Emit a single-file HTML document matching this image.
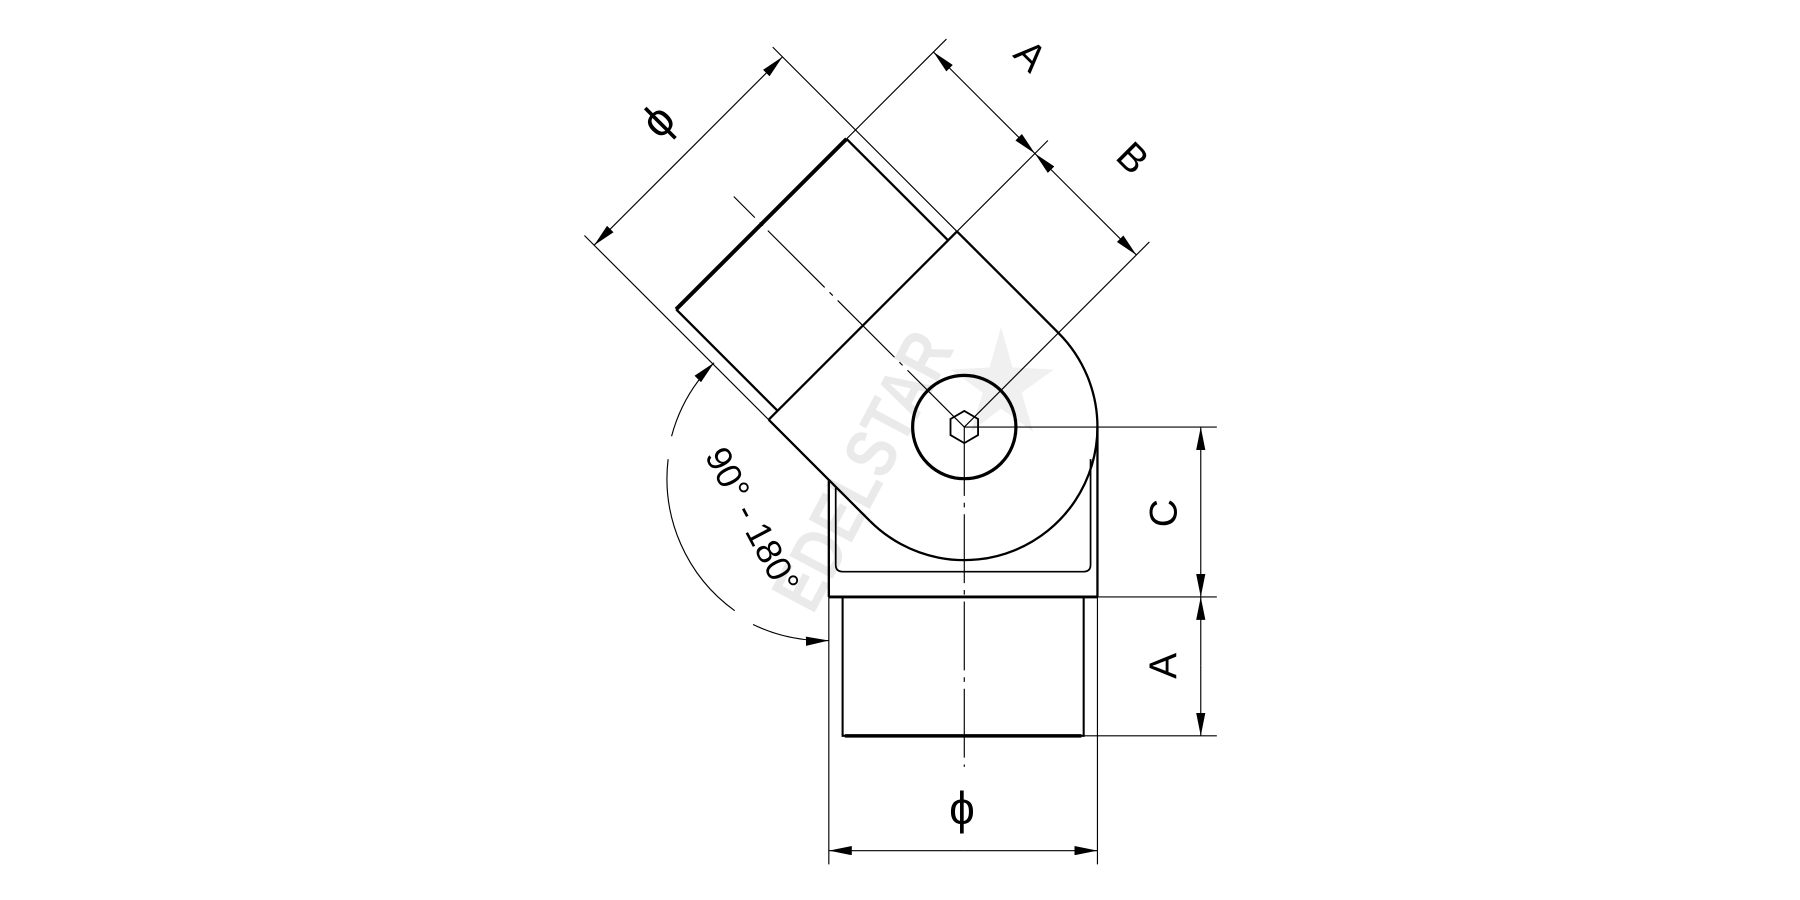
<!DOCTYPE html>
<html><head><meta charset="utf-8"><style>html,body{margin:0;padding:0;background:#fff}svg{display:block}</style></head>
<body>
<svg width="1800" height="900" viewBox="0 0 1568 784" xmlns="http://www.w3.org/2000/svg" font-family="Liberation Sans, DejaVu Sans, sans-serif">
<rect width="1568" height="784" fill="#fff"/>
<defs>
<marker id="ar" viewBox="0 0 20 8" refX="20" refY="4" markerWidth="20" markerHeight="8" markerUnits="userSpaceOnUse" orient="auto"><path d="M0,0 L20,4 L0,8 z" fill="#000"/></marker>
<marker id="as" viewBox="0 0 20 8" refX="0" refY="4" markerWidth="20" markerHeight="8" markerUnits="userSpaceOnUse" orient="auto"><path d="M20,0 L0,4 L20,8 z" fill="#000"/></marker>
</defs>
<!-- watermark -->
<g opacity="0.08" transform="translate(770,420) rotate(-62)"><text x="0" y="0" font-size="62" font-weight="bold" fill="#000" text-anchor="middle" transform="scale(0.8,1)">EDELSTAR</text></g>
<path d="M872,285 L882,320 L918,322 L890,342 L900,376 L872,356 L846,376 L856,342 L828,322 L862,320 z" fill="#000" opacity="0.06"/>

<g stroke="#000" fill="none">
<!-- lower housing -->
<line x1="722" y1="418" x2="722" y2="520" stroke-width="2"/>
<line x1="956" y1="372" x2="956" y2="520" stroke-width="2"/>
<line x1="722" y1="520" x2="956" y2="520" stroke-width="2.5"/>
<path d="M728,425 L728,492 Q728,498 734,498 L944,498 Q950,498 950,492 L950,400" stroke-width="1.5"/>
<!-- lower pipe -->
<path d="M734,520 L734,641 L944,641 L944,520" stroke-width="1.8"/>
<line x1="736" y1="641" x2="942" y2="641" stroke-width="3"/>
<!-- big arc -->
<path d="M922,290 A116,116 0 0 1 956,372 A116,116 0 0 1 758,454" stroke-width="2"/>
<!-- circle & hex -->
<circle cx="840" cy="372" r="45" stroke-width="2.8"/>
<polygon points="840,358 852,365 852,379 840,386 828,379 828,365" stroke-width="1.6"/>
<!-- lower centerline -->
<line x1="840" y1="372" x2="840" y2="668" stroke-width="1" stroke-dasharray="60,6,4,6"/>
<!-- right dims -->
<line x1="840" y1="372" x2="1060" y2="372" stroke-width="1"/>
<line x1="956" y1="520" x2="1060" y2="520" stroke-width="1"/>
<line x1="944" y1="641" x2="1060" y2="641" stroke-width="1"/>
<line x1="1046" y1="446" x2="1046" y2="372" stroke-width="1" marker-end="url(#ar)"/>
<line x1="1046" y1="446" x2="1046" y2="520" stroke-width="1" marker-end="url(#ar)"/>
<line x1="1046" y1="580" x2="1046" y2="520" stroke-width="1" marker-end="url(#ar)"/>
<line x1="1046" y1="580" x2="1046" y2="641" stroke-width="1" marker-end="url(#ar)"/>
<!-- bottom dim -->
<line x1="722" y1="520" x2="722" y2="753" stroke-width="1"/>
<line x1="956" y1="520" x2="956" y2="753" stroke-width="1"/>
<line x1="839" y1="741" x2="722" y2="741" stroke-width="1" marker-end="url(#ar)"/>
<line x1="839" y1="741" x2="956" y2="741" stroke-width="1" marker-end="url(#ar)"/>
<!-- angle arc centered (722,416) r142 -->
<path d="M622,316 A142,142 0 0 0 585,380" stroke-width="1" marker-start="url(#as)"/>
<path d="M582,400 A142,142 0 0 0 640,532" stroke-width="1"/>
<path d="M656,544 A142,142 0 0 0 722,558" stroke-width="1" marker-end="url(#ar)"/>

<!-- arm -->
<g transform="translate(840,372) rotate(-45)">
<line x1="-116" y1="0" x2="-116" y2="-125" stroke-width="2"/>
<line x1="116" y1="0" x2="116" y2="-125" stroke-width="2"/>
<line x1="-116" y1="-125" x2="116" y2="-125" stroke-width="2"/>
<line x1="-105" y1="-125" x2="-105" y2="-250" stroke-width="2"/>
<line x1="105" y1="-125" x2="105" y2="-250" stroke-width="2"/>
<line x1="-105" y1="-250" x2="105" y2="-250" stroke-width="3.5"/>
<!-- centerline -->
<line x1="0" y1="0" x2="0" y2="-284" stroke-width="1" stroke-dasharray="70,6,4,6"/>
<!-- phi ext -->
<line x1="-116" y1="-125" x2="-116" y2="-352" stroke-width="1"/>
<line x1="116" y1="-125" x2="116" y2="-352" stroke-width="1"/>
<line x1="0" y1="-340" x2="-116" y2="-340" stroke-width="1" marker-end="url(#ar)"/>
<line x1="0" y1="-340" x2="116" y2="-340" stroke-width="1" marker-end="url(#ar)"/>
<!-- A B ext -->
<line x1="105" y1="-250" x2="228" y2="-250" stroke-width="1"/>
<line x1="116" y1="-125" x2="228" y2="-125" stroke-width="1"/>
<line x1="0" y1="0" x2="228" y2="0" stroke-width="1"/>
<line x1="212" y1="-188" x2="212" y2="-250" stroke-width="1" marker-end="url(#ar)"/>
<line x1="212" y1="-188" x2="212" y2="-125" stroke-width="1" marker-end="url(#ar)"/>
<line x1="212" y1="-62" x2="212" y2="-125" stroke-width="1" marker-end="url(#ar)"/>
<line x1="212" y1="-62" x2="212" y2="0" stroke-width="1" marker-end="url(#ar)"/>
</g>
</g>

<g fill="#000" font-size="34">
<text x="838" y="718" text-anchor="middle" font-size="40">ϕ</text>
<text transform="translate(1025,447) rotate(-90)" text-anchor="middle">C</text>
<text transform="translate(1025,580) rotate(-90)" text-anchor="middle">A</text>
<g transform="translate(840,372) rotate(-45)">
<text x="0" y="-364" text-anchor="middle" font-size="40">ϕ</text>
<text transform="translate(258,-188) rotate(90)" text-anchor="middle">A</text>
<text transform="translate(258,-62) rotate(90)" text-anchor="middle">B</text>
</g>
<text transform="translate(646,458) rotate(62)" text-anchor="middle" font-size="31">90° - 180°</text>
</g>
</svg>
</body></html>
